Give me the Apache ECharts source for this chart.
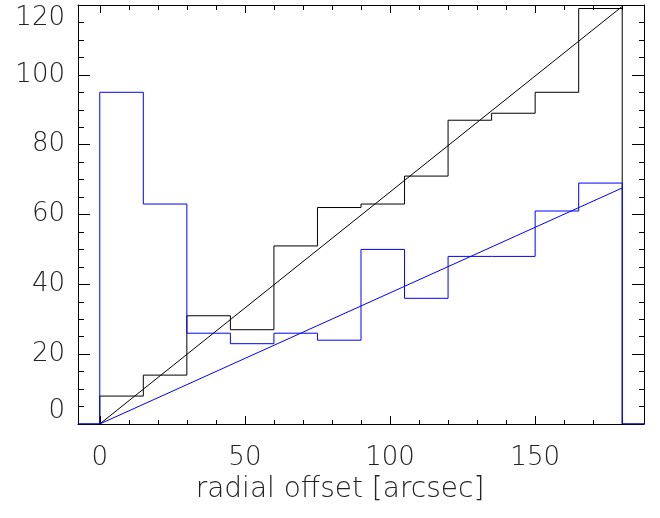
<!DOCTYPE html>
<html>
<head>
<meta charset="utf-8">
<script src="https://cdn.jsdelivr.net/npm/echarts@6/dist/echarts.min.js"></script>
<style>
html,body{margin:0;padding:0;background:#fff;}
#chart{width:660px;height:518px;}
</style>
</head>
<body>
<div id="chart"></div>
<script>
// Data
const binEdges = [0, 15, 30, 45, 60, 75, 90, 105, 120, 135, 150, 165, 180];
const blackCounts = [8, 14, 31, 27, 51, 62, 63, 71, 87, 89, 95, 119];
const blueCounts = [95, 63, 26, 23, 26, 24, 50, 36, 48, 48, 61, 69];
const blackFit = [[0, 0], [180, 119.6]];
const blueFit = [[0, 0], [180, 67.6]];
const xRange = [-7.5, 187.5];
const yRange = [0, 120];
const xTitle = 'radial offset [arcsec]';

function stepLine(edges, counts) {
  const pts = [[xRange[0], 0], [edges[0], 0]];
  for (let i = 0; i < counts.length; i++) {
    pts.push([edges[i], counts[i]]);
    pts.push([edges[i + 1], counts[i]]);
  }
  pts.push([edges[edges.length - 1], 0]);
  pts.push([xRange[1], 0]);
  return pts;
}

const FONT = 'DejaVu Sans';
const L = 78, R = 16, T = 5, B = 94;
const YMAJ = 12, YMIN = 6, XMAJ = 8, XMIN = 4;
const ls = () => ({ color: '#000', width: 1 });
const clearLine = { show: true, onZero: false, lineStyle: { color: 'rgba(0,0,0,0)', width: 1 } };
const noLine = { show: false, onZero: false };

function yTicks(grid, position, offset, major, minor, line) {
  return {
    gridIndex: grid, type: 'value', position: position, offset: offset,
    min: yRange[0], max: yRange[1], interval: 20,
    axisLine: line,
    axisTick: { show: major > 0, inside: false, length: major, lineStyle: ls() },
    minorTick: { show: minor > 0, splitNumber: 4, length: minor, lineStyle: ls() },
    splitLine: { show: false }, axisLabel: { show: false }
  };
}
function xTicks(grid, position, offset, major, minor, line) {
  return {
    gridIndex: grid, type: 'value', position: position, offset: offset,
    min: xRange[0], max: xRange[1], splitNumber: 4,
    axisLine: line,
    axisTick: { show: major > 0, inside: false, length: major, lineStyle: ls() },
    minorTick: { show: minor > 0, splitNumber: 5, length: minor, lineStyle: ls() },
    splitLine: { show: false }, axisLabel: { show: false }
  };
}
const hidden = (grid, range) => ({ gridIndex: grid, type: 'value', show: false, min: range[0], max: range[1] });

const chart = echarts.init(document.getElementById('chart'), null, { renderer: 'canvas' });
chart.setOption({
  animation: false,
  backgroundColor: '#fff',
  grid: [
    { left: L, right: R, top: T, bottom: B, containLabel: false },
    // grid inset horizontally: its side axes carry the y ticks, pointing outward onto the frame
    { left: L + YMAJ, right: R + YMAJ, top: T, bottom: B, containLabel: false },
    // grid inset vertically: its top/bottom axes carry the x ticks
    { left: L, right: R, top: T + XMAJ, bottom: B + XMAJ, containLabel: false }
  ],
  xAxis: [
    {
      gridIndex: 0, type: 'value', position: 'bottom', min: xRange[0], max: xRange[1], splitNumber: 4,
      axisLine: { show: true, onZero: false, lineStyle: ls() },
      axisTick: { show: false }, minorTick: { show: false }, splitLine: { show: false },
      axisLabel: { show: true, showMinLabel: false, showMaxLabel: false, margin: 21,
        fontFamily: FONT, fontSize: 26, fontWeight: 200, color: '#222' },
      name: xTitle, nameLocation: 'middle', nameGap: 50,
      nameTextStyle: { fontFamily: FONT, fontSize: 28, fontWeight: 200, color: '#222', padding: [0, 42, 0, 0] }
    },
    {
      gridIndex: 0, type: 'value', position: 'top', min: xRange[0], max: xRange[1], splitNumber: 4,
      axisLine: { show: true, onZero: false, lineStyle: ls() },
      axisTick: { show: false }, minorTick: { show: false }, splitLine: { show: false },
      axisLabel: { show: false }
    },
    hidden(1, [0, 1]),
    xTicks(2, 'bottom', 0, XMAJ, 0, clearLine),
    xTicks(2, 'bottom', XMAJ - XMIN, 0, XMIN, clearLine),
    xTicks(2, 'top', 0, XMAJ, 0, noLine),
    xTicks(2, 'top', XMAJ - XMIN - 1, 0, XMIN + 1, noLine)
  ],
  yAxis: [
    {
      gridIndex: 0, type: 'value', position: 'left', min: yRange[0], max: yRange[1], interval: 20,
      axisLine: { show: true, onZero: false, lineStyle: ls() },
      axisTick: { show: false }, minorTick: { show: false }, splitLine: { show: false },
      axisLabel: { show: true, margin: 13, fontFamily: FONT, fontSize: 26, fontWeight: 200, color: '#222',
        verticalAlignMaxLabel: 'top', verticalAlignMinLabel: 'bottom' }
    },
    {
      gridIndex: 0, type: 'value', position: 'right', min: yRange[0], max: yRange[1], interval: 20,
      axisLine: { show: true, onZero: false, lineStyle: ls() },
      axisTick: { show: false }, minorTick: { show: false }, splitLine: { show: false },
      axisLabel: { show: false }
    },
    yTicks(1, 'left', 0, YMAJ, 0, clearLine),
    yTicks(1, 'left', YMAJ - YMIN, 0, YMIN, clearLine),
    yTicks(1, 'right', 0, YMAJ, 0, noLine),
    yTicks(1, 'right', YMAJ - YMIN + 1, 0, YMIN - 1, noLine),
    hidden(2, [0, 1])
  ],
  series: [
    { type: 'line', xAxisIndex: 0, yAxisIndex: 0, data: stepLine(binEdges, blackCounts), showSymbol: false,
      lineStyle: { color: '#000', width: 1 }, itemStyle: { color: '#000' }, z: 2 },
    { type: 'line', xAxisIndex: 0, yAxisIndex: 0, data: blackFit, showSymbol: false,
      lineStyle: { color: '#000', width: 1 }, itemStyle: { color: '#000' }, z: 2 },
    { type: 'line', xAxisIndex: 0, yAxisIndex: 0, data: stepLine(binEdges, blueCounts), showSymbol: false,
      lineStyle: { color: '#0000ff', width: 1 }, itemStyle: { color: '#0000ff' }, z: 3 },
    { type: 'line', xAxisIndex: 0, yAxisIndex: 0, data: blueFit, showSymbol: false,
      lineStyle: { color: '#0000ff', width: 1 }, itemStyle: { color: '#0000ff' }, z: 3 }
  ]
});
</script>
</body>
</html>
